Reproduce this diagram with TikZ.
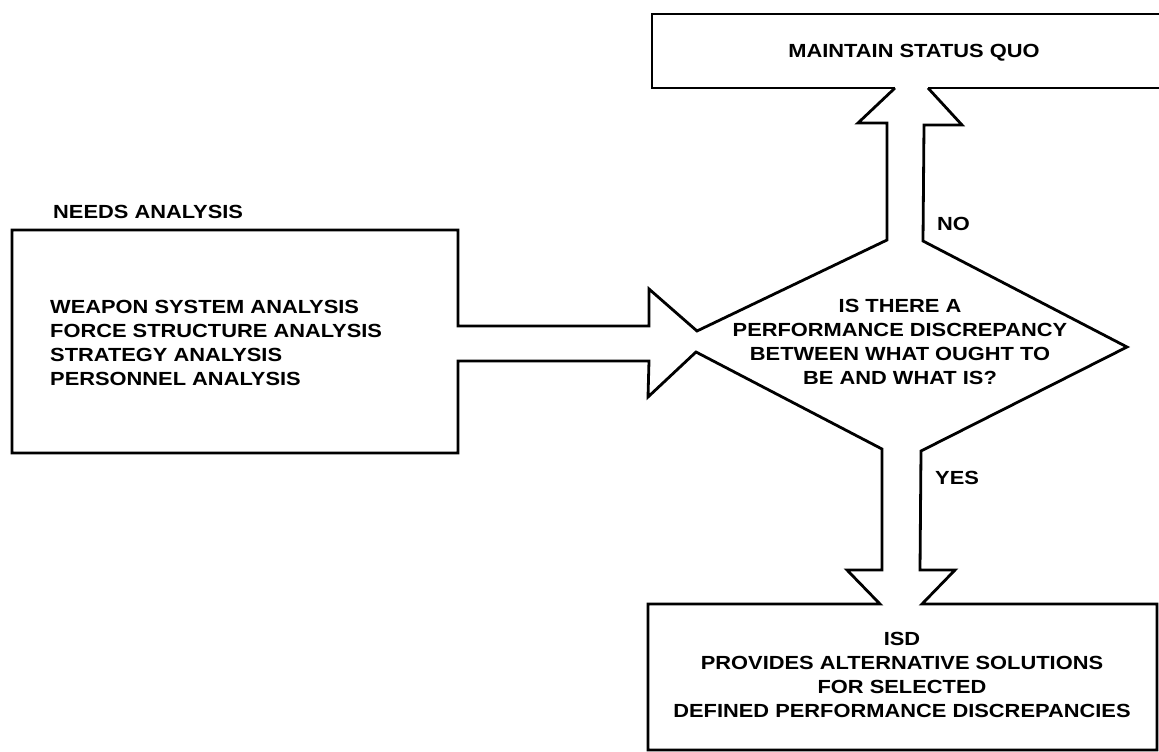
\documentclass[tikz,border=0pt]{standalone}
\usepackage{fontspec}
\setmainfont{Liberation Sans}[FakeStretch=1.15]
\begin{document}
\begin{tikzpicture}[x=1pt,y=-1pt,
  outline/.style={line width=2.8pt,line join=miter,line cap=butt},
  lbl/.style={font=\fontsize{19}{23.8}\selectfont\bfseries,inner sep=0pt},
  blk/.style={lbl,align=center}]
\useasboundingbox (0,0) rectangle (1159,752);
% top box (right side runs off the page)
\coordinate (tbL) at (652,14);
\draw[outline] (895,88) -- (652,88) -- (tbL) -- (1175,14);
\draw[outline] (928,88) -- (1175,88);
% single outline: arrows, diamond, left and bottom boxes
\draw[outline] (895,88) -- (858,123) -- (887,123) -- (887,240)
  -- (697,331) -- (649,289) -- (649,326) -- (458,326) -- (458,230)
  -- (12,230) -- (12,453) -- (458,453) -- (458,361) -- (649,361)
  -- (648,397) -- (696,352) -- (882,449) -- (882,570) -- (847,570)
  -- (880,604) -- (648,604) -- (648,750) -- (1157,750) -- (1157,604)
  -- (922,604) -- (955,570) -- (920,570) -- (921,451) -- (1127,347)
  -- (923,241) -- (924,125) -- (962,125) -- (928,88);
% texts
\node[lbl,anchor=west] (needs) at (53,212) {NEEDS ANALYSIS};
\node[lbl,anchor=west,align=left] (list) at (50,343)
  {WEAPON SYSTEM ANALYSIS\\FORCE STRUCTURE ANALYSIS\\STRATEGY ANALYSIS\\PERSONNEL ANALYSIS};
\node[lbl] (status) at (914,53) {MAINTAIN STATUS QUO};
\node[lbl,anchor=west] (no) at (937,224) {NO};
\node[blk] (question) at (900,342)
  {IS THERE A\\PERFORMANCE DISCREPANCY\\BETWEEN WHAT OUGHT TO\\BE AND WHAT IS?};
\node[lbl,anchor=west] (yes) at (935,478) {YES};
\node[blk] (isd) at (902,675)
  {ISD\\PROVIDES ALTERNATIVE SOLUTIONS\\FOR SELECTED\\DEFINED PERFORMANCE DISCREPANCIES};
\end{tikzpicture}
\end{document}
